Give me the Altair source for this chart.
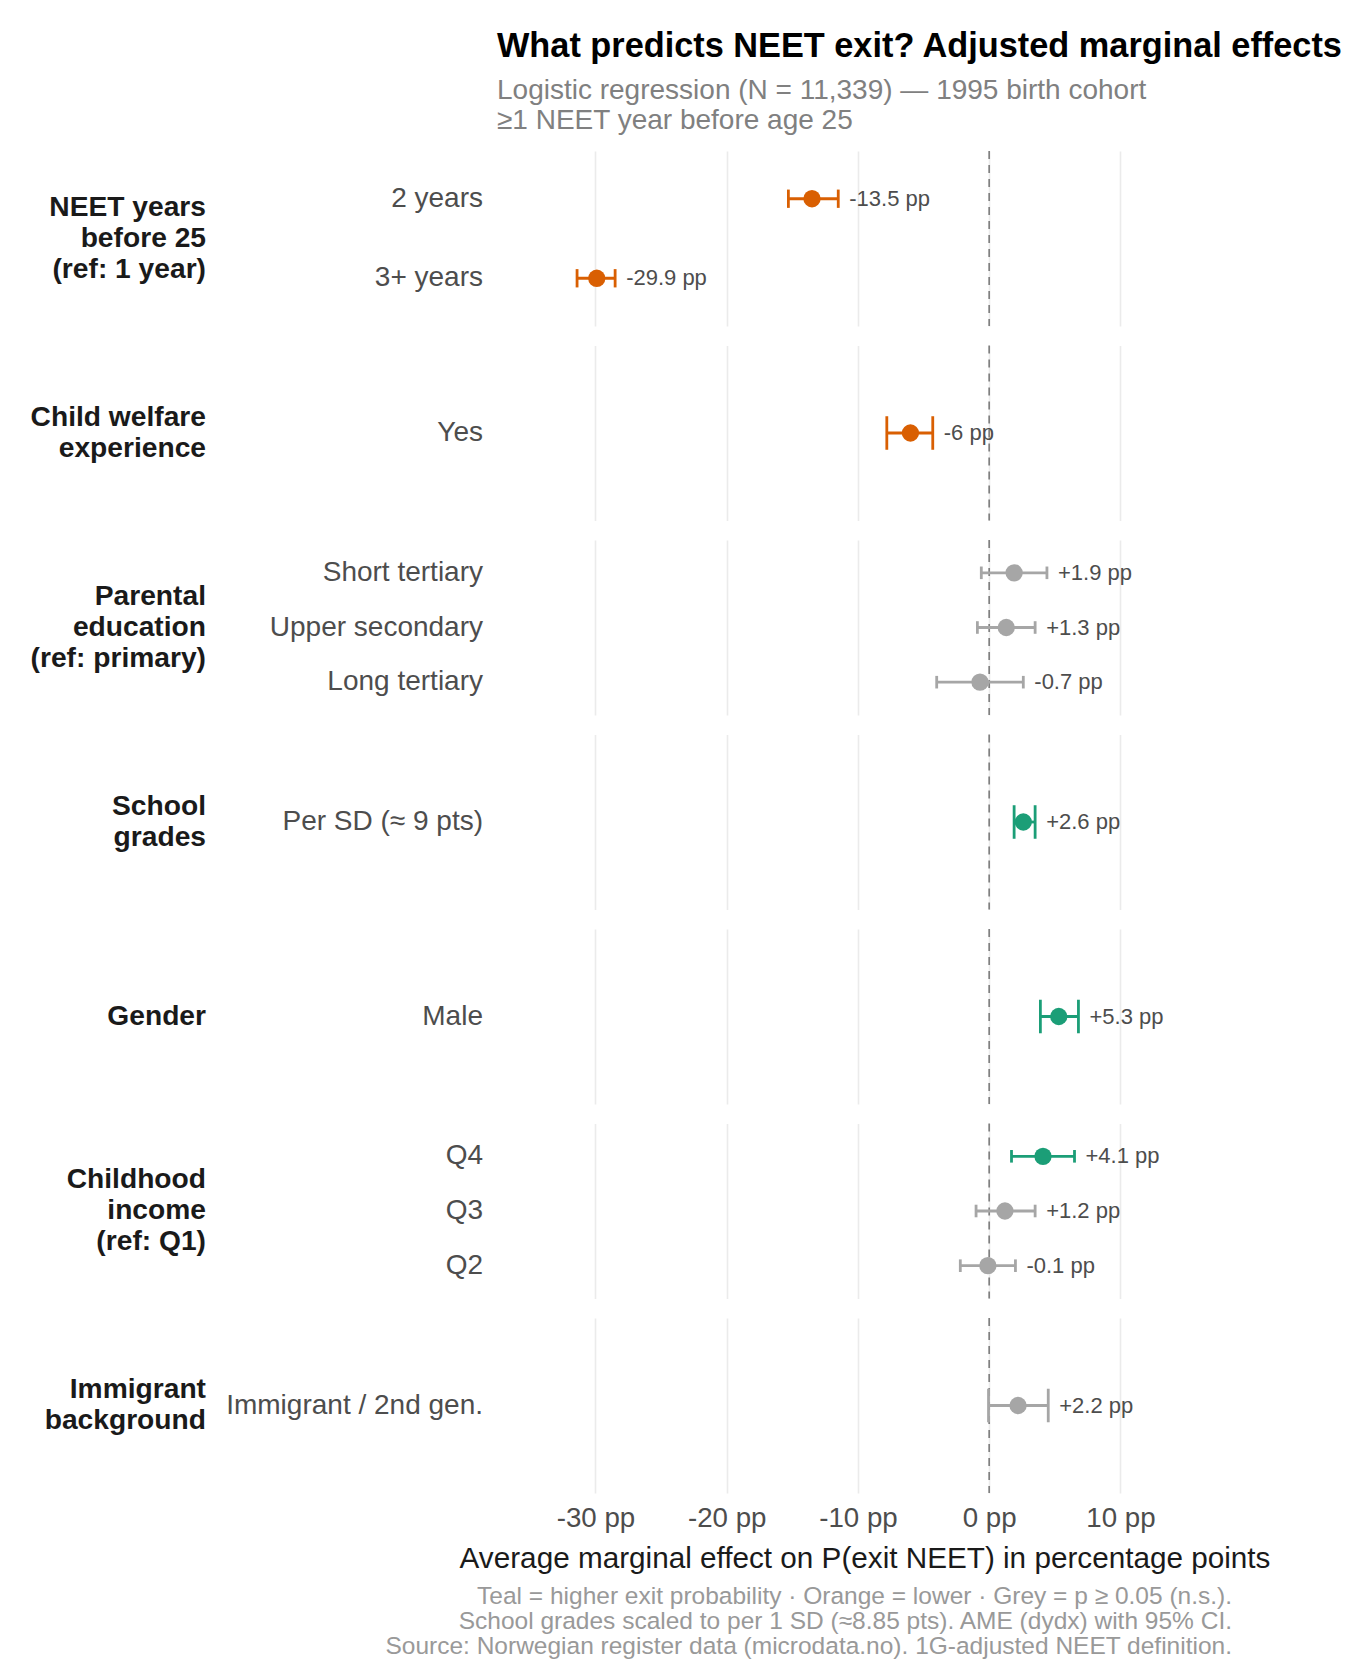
import altair as alt
import pandas as pd

# ---------------- data ----------------
group_labels = [
    "NEET years\nbefore 25\n(ref: 1 year)",
    "Child welfare\nexperience",
    "Parental\neducation\n(ref: primary)",
    "School\ngrades",
    "Gender",
    "Childhood\nincome\n(ref: Q1)",
    "Immigrant\nbackground",
]
terms = [
    ["2 years", "3+ years"],
    ["Yes"],
    ["Short tertiary", "Upper secondary", "Long tertiary"],
    ["Per SD (≈ 9 pts)"],
    ["Male"],
    ["Q4", "Q3", "Q2"],
    ["Immigrant / 2nd gen."],
]
ame = [[-13.5, -29.9], [-6.0], [1.9, 1.3, -0.7], [2.6], [5.3], [4.1, 1.2, -0.1], [2.2]]
ci_lo = [[-15.3, -31.4], [-7.8], [-0.6, -0.9, -4.0], [1.9], [3.9], [1.7, -1.0, -2.2], [-0.05]]
ci_hi = [[-11.5, -28.5], [-4.3], [4.4, 3.5, 2.6], [3.5], [6.8], [6.5, 3.5, 2.0], [4.5]]
sig = [["neg", "neg"], ["neg"], ["ns", "ns", "ns"], ["pos"], ["pos"], ["pos", "ns", "ns"], ["ns"]]

x_ticks = [-30, -20, -10, 0, 10]
title_text = "What predicts NEET exit? Adjusted marginal effects"
subtitle_lines = ["Logistic regression (N = 11,339) — 1995 birth cohort", "≥1 NEET year before age 25"]
x_title = "Average marginal effect on P(exit NEET) in percentage points"
caption_lines = [
    "Teal = higher exit probability · Orange = lower · Grey = p ≥ 0.05 (n.s.).",
    "School grades scaled to per 1 SD (≈8.85 pts). AME (dydx) with 95% CI.",
    "Source: Norwegian register data (microdata.no). 1G-adjusted NEET definition.",
]

SIG_DOMAIN = ["neg", "pos", "ns"]
SIG_COLORS = ["#D95F02", "#1B9E77", "#A6A6A6"]
SIG_WIDTH = [2.8, 2.8, 2.2]

W, H = 735, 175
XDOM = [-37.5, 18.5]
FONT = "Liberation Sans"
GROUP_LH = 31


def fmt(v):
    s = f"{v:+.1f}"
    if s.endswith(".0"):
        s = s[:-2]
    return s + " pp"


def panel(gi, first=False, last=False):
    n = len(terms[gi])
    df = pd.DataFrame({
        "term": terms[gi],
        "idx": list(range(1, n + 1)),
        "ame": ame[gi],
        "lo": ci_lo[gi],
        "hi": ci_hi[gi],
        "sig": sig[gi],
        "label": [fmt(v) for v in ame[gi]],
    })
    xscale = alt.Scale(domain=XDOM, nice=False, zero=False)
    yscale = alt.Scale(domain=[0.4, n + 0.6], reverse=True, nice=False, zero=False)
    if last:
        xaxis = alt.Axis(values=x_ticks, labelExpr="datum.value + ' pp'", grid=True,
                         gridColor="#EBEBEB", gridWidth=1.6, ticks=False, domain=False,
                         labelFontSize=27.7, labelColor="#4D4D4D", labelPadding=11,
                         labelFont=FONT, title=x_title, titleFontSize=29.7,
                         titleFontWeight="normal", titleColor="#1A1A1A", titlePadding=13,
                         titleFont=FONT)
    else:
        xaxis = alt.Axis(values=x_ticks, grid=True, gridColor="#EBEBEB", gridWidth=1.6,
                         labels=False, ticks=False, domain=False, title=None)
    color = alt.Color("sig:N", scale=alt.Scale(domain=SIG_DOMAIN, range=SIG_COLORS), legend=None)
    swidth = alt.StrokeWidth("sig:N", scale=alt.Scale(domain=SIG_DOMAIN, range=SIG_WIDTH), legend=None)
    Y = alt.Y("idx:Q", scale=yscale, axis=None)

    zero = alt.Chart(pd.DataFrame({"z": [0]})).mark_rule(
        strokeDash=[8, 6], color="#808080", strokeWidth=1.7
    ).encode(x=alt.X("z:Q", scale=xscale, axis=xaxis))

    base = alt.Chart(df).transform_calculate(
        ylo="datum.idx - 0.115", yhi="datum.idx + 0.115"
    )
    err = base.mark_rule().encode(
        x=alt.X("lo:Q", scale=xscale, axis=xaxis), x2="hi:Q", y=Y, color=color, strokeWidth=swidth
    )
    cap_lo = base.mark_rule().encode(
        x=alt.X("lo:Q", scale=xscale, axis=xaxis), y=alt.Y("ylo:Q", scale=yscale, axis=None),
        y2="yhi:Q", color=color, strokeWidth=swidth
    )
    cap_hi = base.mark_rule().encode(
        x=alt.X("hi:Q", scale=xscale, axis=xaxis), y=alt.Y("ylo:Q", scale=yscale, axis=None),
        y2="yhi:Q", color=color, strokeWidth=swidth
    )
    pts = base.mark_circle(size=300, opacity=1).encode(
        x=alt.X("ame:Q", scale=xscale, axis=xaxis), y=Y, color=color
    )
    lbl = base.mark_text(align="left", baseline="middle", dx=11, fontSize=22,
                         color="#4D4D4D", font=FONT).encode(
        x=alt.X("hi:Q", scale=xscale, axis=xaxis), y=Y, text="label:N"
    )
    cat = base.mark_text(align="right", baseline="middle", fontSize=28,
                         color="#4D4D4D", font=FONT).encode(
        x=alt.value(-14), y=Y, text="term:N"
    )
    nlines = group_labels[gi].count("\n") + 1
    grp = alt.Chart(pd.DataFrame({"g": [group_labels[gi]]})).mark_text(
        align="right", baseline="middle", fontSize=28.2, fontWeight="bold", color="#1A1A1A",
        lineBreak="\n", lineHeight=GROUP_LH, font=FONT
    ).encode(x=alt.value(-291), y=alt.value(H / 2 - (nlines - 1) * GROUP_LH / 2), text="g:N")

    props = dict(width=W, height=H)
    if first:
        props["title"] = alt.TitleParams(
            text=title_text, subtitle=subtitle_lines, anchor="start", frame="group",
            fontSize=34.3, fontWeight="bold", color="#000000", font=FONT,
            subtitleFont=FONT, subtitleFontSize=28, subtitleColor="#808080",
            subtitleLineHeight=30.5, subtitlePadding=12.5, offset=15,
        )
    if last:
        props["title"] = alt.TitleParams(
            text=caption_lines, orient="bottom", anchor="end", frame="group",
            fontSize=24.5, fontWeight="normal", color="#999999", font=FONT,
            lineHeight=25, offset=12,
        )
    return alt.layer(zero, err, cap_lo, cap_hi, pts, lbl, cat, grp).properties(**props)


panels = [panel(i, first=(i == 0), last=(i == len(terms) - 1)) for i in range(len(terms))]
chart = alt.vconcat(*panels, spacing=17.5).configure_view(stroke=None).properties(
    padding={"left": 22, "top": 21, "right": 0, "bottom": 2}
)

chart.save("out.html", embed_options={"renderer": "svg", "actions": False})
